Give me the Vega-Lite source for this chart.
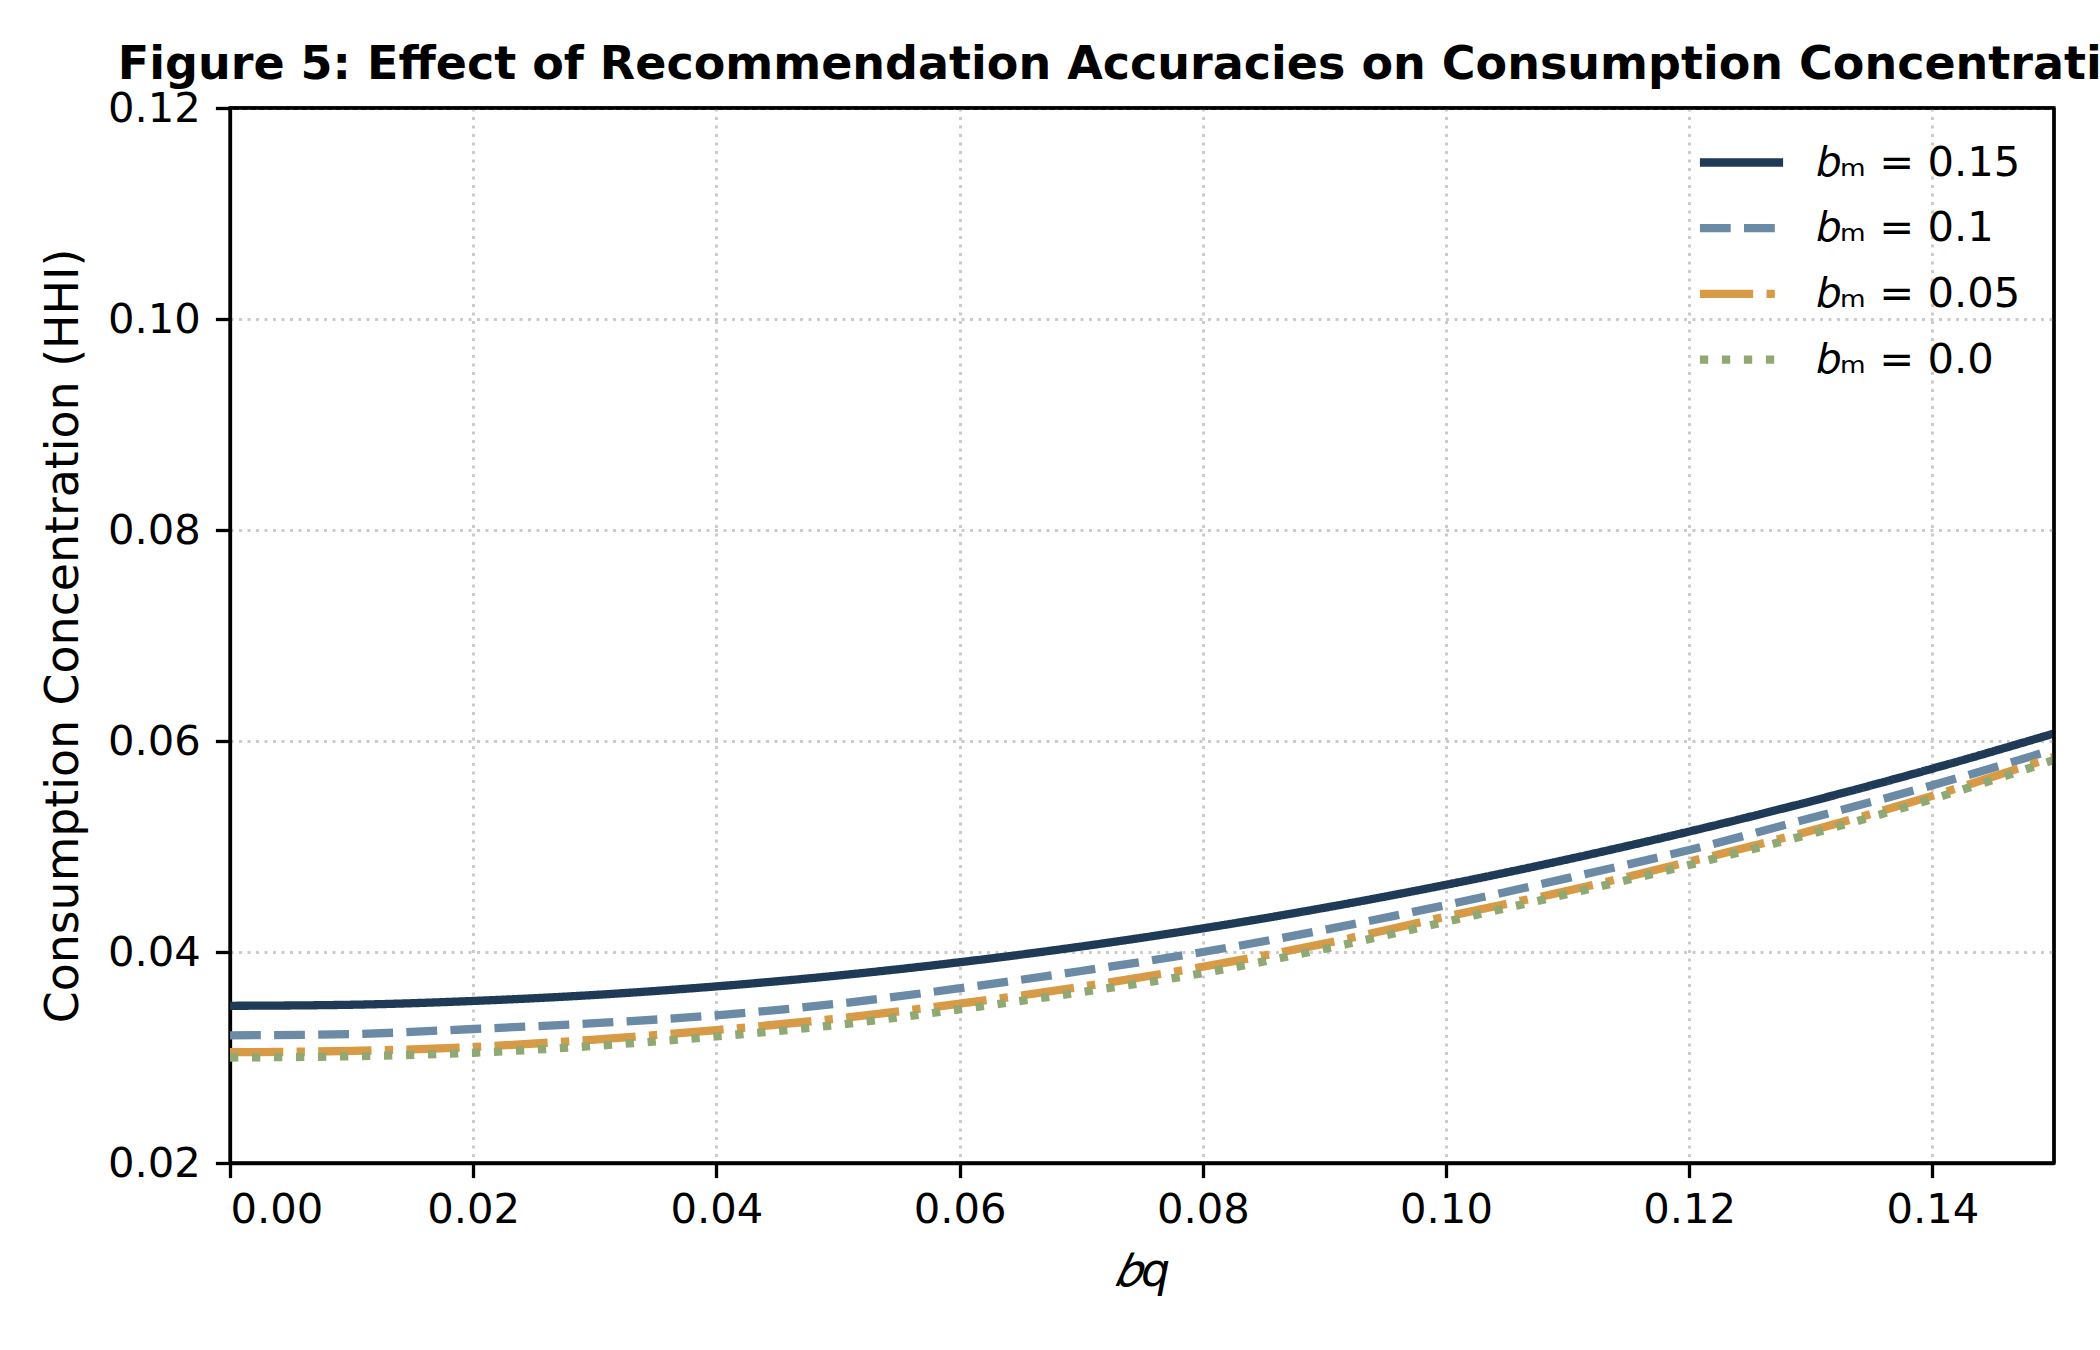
{
  "$schema": "https://vega.github.io/schema/vega-lite/v6.json",
  "autosize": {"type": "none"},
  "padding": {"left": 230, "top": 108, "right": 46, "bottom": 187},
  "width": 1824,
  "height": 1055,
  "background": "white",
  "title": {
    "text": "Figure 5: Effect of Recommendation Accuracies on Consumption Concentration",
    "font": "DejaVu Sans",
    "fontSize": 46,
    "fontWeight": "bold",
    "color": "black",
    "anchor": "middle",
    "frame": "group",
    "baseline": "alphabetic",
    "offset": -37
  },
  "config": {
    "font": "DejaVu Sans",
    "view": {"stroke": "black", "strokeWidth": 3.3},
    "axis": {
      "domainColor": "black",
      "domainWidth": 3.3,
      "tickColor": "black",
      "tickWidth": 3.3,
      "tickSize": 14.6,
      "labelFont": "DejaVu Sans",
      "labelFontSize": 41.7,
      "labelColor": "black",
      "titleFont": "DejaVu Sans",
      "titleFontSize": 45.8,
      "titleFontWeight": "normal",
      "titleColor": "black",
      "grid": true,
      "gridColor": "#cbcbcb",
      "gridWidth": 3,
      "gridDash": [3, 5.5]
    },
    "legend": {
      "orient": "none",
      "legendX": 1481,
      "legendY": 24,
      "padding": 0,
      "title": null,
      "labelFont": "DejaVu Sans",
      "labelFontSize": 41.7,
      "labelColor": "black",
      "labelLimit": 0,
      "labelOffset": 45,
      "rowPadding": 12.7,
      "symbolType": "M-1.6,0H1.6",
      "symbolSize": 2704,
      "symbolStrokeWidth": 8.3,
      "symbolFillColor": "transparent"
    }
  },
  "layer": [
    {
      "data": {
        "values": [
          {"bq": 0.00, "series": "0.15", "hhi": 0.0349},
          {"bq": 0.01, "series": "0.15", "hhi": 0.0350},
          {"bq": 0.02, "series": "0.15", "hhi": 0.03536},
          {"bq": 0.03, "series": "0.15", "hhi": 0.03593},
          {"bq": 0.04, "series": "0.15", "hhi": 0.03674},
          {"bq": 0.05, "series": "0.15", "hhi": 0.03777},
          {"bq": 0.06, "series": "0.15", "hhi": 0.03903},
          {"bq": 0.07, "series": "0.15", "hhi": 0.04052},
          {"bq": 0.08, "series": "0.15", "hhi": 0.04224},
          {"bq": 0.09, "series": "0.15", "hhi": 0.04419},
          {"bq": 0.10, "series": "0.15", "hhi": 0.04637},
          {"bq": 0.11, "series": "0.15", "hhi": 0.04878},
          {"bq": 0.12, "series": "0.15", "hhi": 0.05142},
          {"bq": 0.13, "series": "0.15", "hhi": 0.05428},
          {"bq": 0.14, "series": "0.15", "hhi": 0.05738},
          {"bq": 0.15, "series": "0.15", "hhi": 0.06071},
          {"bq": 0.00, "series": "0.1", "hhi": 0.0321},
          {"bq": 0.01, "series": "0.1", "hhi": 0.03222},
          {"bq": 0.02, "series": "0.1", "hhi": 0.0327},
          {"bq": 0.03, "series": "0.1", "hhi": 0.03325},
          {"bq": 0.04, "series": "0.1", "hhi": 0.0340},
          {"bq": 0.05, "series": "0.1", "hhi": 0.0351},
          {"bq": 0.06, "series": "0.1", "hhi": 0.03656},
          {"bq": 0.07, "series": "0.1", "hhi": 0.0382},
          {"bq": 0.08, "series": "0.1", "hhi": 0.0400},
          {"bq": 0.09, "series": "0.1", "hhi": 0.0421},
          {"bq": 0.10, "series": "0.1", "hhi": 0.04445},
          {"bq": 0.11, "series": "0.1", "hhi": 0.0470},
          {"bq": 0.12, "series": "0.1", "hhi": 0.04967},
          {"bq": 0.13, "series": "0.1", "hhi": 0.0527},
          {"bq": 0.14, "series": "0.1", "hhi": 0.0558},
          {"bq": 0.15, "series": "0.1", "hhi": 0.0592},
          {"bq": 0.00, "series": "0.05", "hhi": 0.0305},
          {"bq": 0.01, "series": "0.05", "hhi": 0.03062},
          {"bq": 0.02, "series": "0.05", "hhi": 0.0310},
          {"bq": 0.03, "series": "0.05", "hhi": 0.0317},
          {"bq": 0.04, "series": "0.05", "hhi": 0.0326},
          {"bq": 0.05, "series": "0.05", "hhi": 0.0337},
          {"bq": 0.06, "series": "0.05", "hhi": 0.0351},
          {"bq": 0.07, "series": "0.05", "hhi": 0.0367},
          {"bq": 0.08, "series": "0.05", "hhi": 0.0386},
          {"bq": 0.09, "series": "0.05", "hhi": 0.0408},
          {"bq": 0.10, "series": "0.05", "hhi": 0.04335},
          {"bq": 0.11, "series": "0.05", "hhi": 0.0458},
          {"bq": 0.12, "series": "0.05", "hhi": 0.04856},
          {"bq": 0.13, "series": "0.05", "hhi": 0.0515},
          {"bq": 0.14, "series": "0.05", "hhi": 0.0548},
          {"bq": 0.15, "series": "0.05", "hhi": 0.0585},
          {"bq": 0.00, "series": "0.0", "hhi": 0.0300},
          {"bq": 0.01, "series": "0.0", "hhi": 0.03012},
          {"bq": 0.02, "series": "0.0", "hhi": 0.03045},
          {"bq": 0.03, "series": "0.0", "hhi": 0.0311},
          {"bq": 0.04, "series": "0.0", "hhi": 0.0320},
          {"bq": 0.05, "series": "0.0", "hhi": 0.0331},
          {"bq": 0.06, "series": "0.0", "hhi": 0.03457},
          {"bq": 0.07, "series": "0.0", "hhi": 0.0362},
          {"bq": 0.08, "series": "0.0", "hhi": 0.0380},
          {"bq": 0.09, "series": "0.0", "hhi": 0.0403},
          {"bq": 0.10, "series": "0.0", "hhi": 0.04287},
          {"bq": 0.11, "series": "0.0", "hhi": 0.0455},
          {"bq": 0.12, "series": "0.0", "hhi": 0.04825},
          {"bq": 0.13, "series": "0.0", "hhi": 0.0512},
          {"bq": 0.14, "series": "0.0", "hhi": 0.0545},
          {"bq": 0.15, "series": "0.0", "hhi": 0.0582}
        ]
      },
      "mark": {"type": "line", "strokeWidth": 8.3, "strokeCap": "butt", "interpolate": "monotone", "clip": true},
      "encoding": {
        "x": {
          "field": "bq",
          "type": "quantitative",
          "scale": {"domain": [0, 0.15], "nice": false, "zero": false},
          "axis": {"values": [0, 0.02, 0.04, 0.06, 0.08, 0.1, 0.12, 0.14], "format": ".2f", "title": "𝑏q", "titleFontStyle": "italic", "labelPadding": 12, "titlePadding": 18}
        },
        "y": {
          "field": "hhi",
          "type": "quantitative",
          "scale": {"domain": [0.02, 0.12], "nice": false, "zero": false},
          "axis": {"values": [0.02, 0.04, 0.06, 0.08, 0.1, 0.12], "format": ".2f", "title": "Consumption Concentration (HHI)", "labelPadding": 15, "titlePadding": 20}
        },
        "color": {
          "field": "series",
          "type": "nominal",
          "sort": ["0.15", "0.1", "0.05", "0.0"],
          "scale": {"domain": ["0.15", "0.1", "0.05", "0.0"], "range": ["#1e3a56", "#6a8aa5", "#d99a45", "#8fa874"]},
          "legend": {"labelExpr": "'𝑏ₘ = ' + datum.label"}
        },
        "strokeDash": {
          "field": "series",
          "type": "nominal",
          "sort": ["0.15", "0.1", "0.05", "0.0"],
          "scale": {"domain": ["0.15", "0.1", "0.05", "0.0"], "range": [[1, 0], [30.8, 13.3], [53.3, 13.3, 8.3, 13.3], [8.3, 13.7]]},
          "legend": {"labelExpr": "'𝑏ₘ = ' + datum.label"}
        }
      }
    },
    {
      "data": {"values": [{}]},
      "mark": {"type": "rule", "color": "black", "strokeWidth": 3.3},
      "encoding": {"y": {"datum": 0.12}}
    },
    {
      "data": {"values": [{}]},
      "mark": {"type": "rule", "color": "black", "strokeWidth": 3.3},
      "encoding": {"x": {"datum": 0.15}}
    }
  ]
}
